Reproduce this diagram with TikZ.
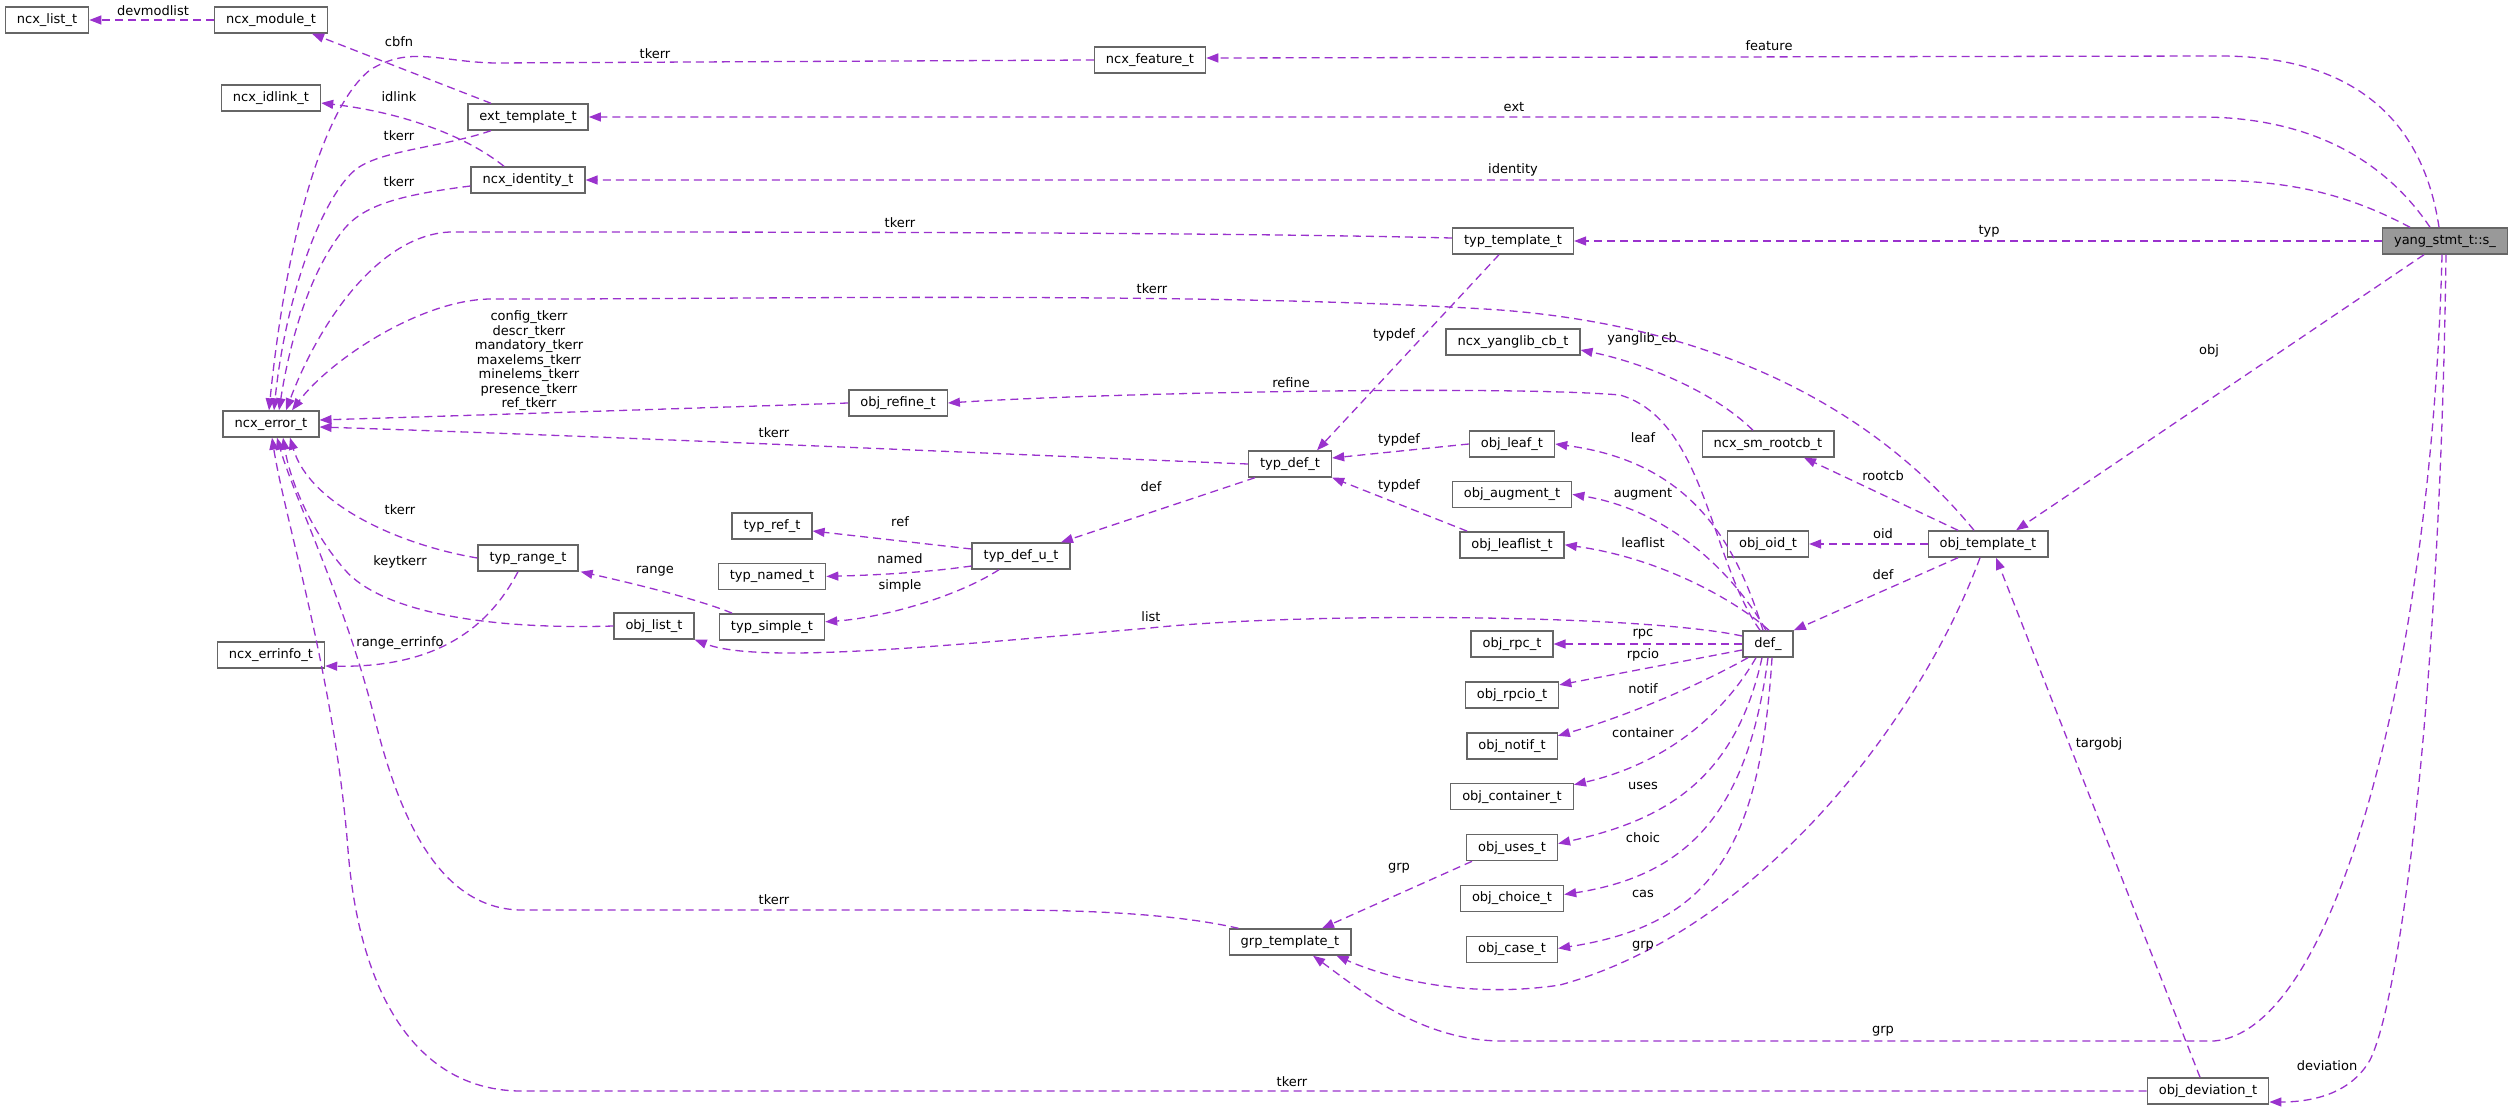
\documentclass[tikz,border=0pt]{standalone}
\usepackage{fontspec}
\setmainfont{DejaVu Sans}
\usetikzlibrary{positioning, arrows.meta}
\definecolor{edgepurple}{HTML}{9A32CD}
\definecolor{boxgray}{HTML}{666666}
\definecolor{rootgray}{HTML}{999999}

\begin{document}
\begin{tikzpicture}[
        x=1pt, y=-1pt,
        base/.style={draw=boxgray, line width=1.4pt, font=\fontsize{13}{14.5}\selectfont, inner xsep=11.5pt, inner ysep=3pt, minimum height=26pt},
        cls/.style={base, fill=white},
        root/.style={base, fill=rootgray},
        lbl/.style={font=\fontsize{13}{14.5}\selectfont, text=black, inner sep=0pt, align=center},
        dep/.style={-{Triangle[length=12pt, width=9pt]}, edgepurple, line width=1.3pt, dash pattern=on 8pt off 5pt}
    ]
    \useasboundingbox (0,0) rectangle (2513,1110);

    \node[cls] (ncxlist) at (47,20) {ncx\_list\_t};
    \node[cls] (ncxmodule) at (271,20) {ncx\_module\_t};
    \node[cls] (ncxidlink) at (271,98) {ncx\_idlink\_t};
    \node[cls] (exttemplate) at (528,117) {ext\_template\_t};
    \node[cls] (ncxidentity) at (528,180) {ncx\_identity\_t};
    \node[cls] (ncxfeature) at (1150,60) {ncx\_feature\_t};
    \node[cls] (typtemplate) at (1513,241) {typ\_template\_t};
    \node[root] (yang) at (2445,241) {yang\_stmt\_t::s\_};

    \node[cls] (ncxerror) at (271,424) {ncx\_error\_t};
    \node[cls] (ncxerrinfo) at (271,655) {ncx\_errinfo\_t};
    \node[cls] (typrange) at (528,558) {typ\_range\_t};
    \node[cls] (objlist) at (654,626) {obj\_list\_t};
    \node[cls] (typref) at (772,526) {typ\_ref\_t};
    \node[cls, below=23pt of typref] (typnamed) {typ\_named\_t};
    \node[cls, below=23pt of typnamed] (typsimple) {typ\_simple\_t};
    \node[cls] (objrefine) at (898,403) {obj\_refine\_t};
    \node[cls] (typdefu) at (1021,556) {typ\_def\_u\_t};
    \node[cls] (typdef) at (1290,464) {typ\_def\_t};
    \node[cls] (grptemplate) at (1290,942) {grp\_template\_t};

    \node[cls] (yanglibcb) at (1513,342) {ncx\_yanglib\_cb\_t};
    \node[cls] (objleaf) at (1512,444) {obj\_leaf\_t};
    \node[cls, below=23pt of objleaf] (objaugment) {obj\_augment\_t};
    \node[cls, below=23pt of objaugment] (objleaflist) {obj\_leaflist\_t};
    \node[cls] (objrpc) at (1512,644) {obj\_rpc\_t};
    \node[cls, below=23.5pt of objrpc] (objrpcio) {obj\_rpcio\_t};
    \node[cls, below=23.5pt of objrpcio] (objnotif) {obj\_notif\_t};
    \node[cls, below=23.5pt of objnotif] (objcontainer) {obj\_container\_t};
    \node[cls, below=23.5pt of objcontainer] (objuses) {obj\_uses\_t};
    \node[cls, below=23.5pt of objuses] (objchoice) {obj\_choice\_t};
    \node[cls, below=23.5pt of objchoice] (objcase) {obj\_case\_t};

    \node[cls] (rootcb) at (1768,444) {ncx\_sm\_rootcb\_t};
    \node[cls] (objoid) at (1768,544) {obj\_oid\_t};
    \node[cls] (objdef) at (1768,644) {def\_};
    \node[cls] (objtemplate) at (1988,544) {obj\_template\_t};
    \node[cls] (objdeviation) at (2208,1091) {obj\_deviation\_t};

    % yang_stmt_t::s_
    \draw[dep] ([xshift=-6pt]yang.north) .. controls (2420,100) and (2330,56) .. (2220,56) -- ([yshift=2pt]ncxfeature.east) node[lbl] at (1769,46) {feature};
    \draw[dep] ([xshift=-15pt]yang.north) .. controls (2385,160) and (2310,117) .. (2200,117) -- (exttemplate.east) node[lbl] at (1514,107) {ext};
    \draw[dep] ([xshift=-35pt]yang.north) .. controls (2340,190) and (2280,180) .. (2200,180) -- (ncxidentity.east) node[lbl] at (1513,170) {identity};
    \draw[dep] (yang.west) -- (typtemplate.east) node[lbl] at (1989,231) {typ};
    \draw[dep] ([xshift=-21pt]yang.south) -- ([xshift=28pt]objtemplate.north) node[lbl] at (2209,351) {obj};
    \draw[dep] ([xshift=-3pt]yang.south) .. controls (2432,650) and (2340,1030) .. (2214,1041) -- (1500,1041) .. controls (1420,1040) and (1360,990) .. ([xshift=23pt]grptemplate.south) node[lbl] at (1883,1031) {grp};
    \draw[dep] ([xshift=1pt]yang.south) .. controls (2440,700) and (2400,1000) .. (2370,1060) .. controls (2350,1095) and (2310,1102) .. ([yshift=-11pt]objdeviation.east) node[lbl] at (2327,1066) {deviation};

    % obj_template_t
    \draw[dep] ([xshift=-30pt]objtemplate.north) -- ([xshift=36pt]rootcb.south) node[lbl] at (1883,476) {rootcb};
    \draw[dep] ([xshift=-15pt]rootcb.north) .. controls (1712,390) and (1640,362) .. ([yshift=-8pt]yanglibcb.east) node[lbl] at (1642,339) {yanglib\_cb};
    \draw[dep] (objtemplate.west) -- (objoid.east) node[lbl] at (1883,534) {oid};
    \draw[dep] ([xshift=-30pt]objtemplate.south) -- (objdef.north east) node[lbl] at (1883,575) {def};
    \draw[dep] ([xshift=-8pt]objtemplate.south) .. controls (1920,720) and (1760,930) .. (1560,985) .. controls (1460,1000) and (1380,975) .. ([xshift=-15pt]grptemplate.south east) node[lbl] at (1643,946) {grp};
    \draw[dep] ([xshift=-14pt]objtemplate.north) .. controls (1900,440) and (1760,330) .. (1500,310) .. controls (1200,290) and (700,300) .. (490,299) .. controls (420,300) and (330,360) .. ([xshift=21pt]ncxerror.north) node[lbl] at (1152,289) {tkerr};
    \draw[dep] ([xshift=-8pt]objdeviation.north) -- ([xshift=8pt]objtemplate.south) node[lbl] at (2099,744) {targobj};
    \draw[dep] (objdeviation.west) -- (520,1091) .. controls (420,1090) and (360,1000) .. (348,850) .. controls (335,680) and (285,520) .. ([xshift=1pt]ncxerror.south) node[lbl] at (1292,1082) {tkerr};

    % def_
    \draw[dep] ([xshift=-8pt]objdef.north) .. controls (1710,560) and (1705,420) .. (1620,395) .. controls (1500,385) and (1100,393) .. (objrefine.east) node[lbl] at (1291,383) {refine};
    \draw[dep] ([xshift=-5pt]objdef.north) .. controls (1735,540) and (1690,462) .. (objleaf.east) node[lbl] at (1643,438) {leaf};
    \draw[dep] ([xshift=-2pt]objdef.north) .. controls (1735,575) and (1670,510) .. (objaugment.east) node[lbl] at (1643,494) {augment};
    \draw[dep] ([xshift=1pt]objdef.north) .. controls (1735,600) and (1660,558) .. (objleaflist.east) node[lbl] at (1643,543) {leaflist};
    \draw[dep] ([yshift=8pt]objdef.west) .. controls (1640,614) and (1300,612) .. (1150,628) .. controls (950,645) and (760,665) .. (objlist.south east) node[lbl] at (1151,617) {list};
    \draw[dep] (objdef.west) -- (objrpc.east) node[lbl] at (1643,634) {rpc};
    \draw[dep] ([yshift=-6pt]objdef.west) -- ([yshift=10pt]objrpcio.east) node[lbl] at (1643,655) {rpcio};
    \draw[dep] ([xshift=-20pt]objdef.south) .. controls (1690,690) and (1620,718) .. ([yshift=10pt]objnotif.east) node[lbl] at (1643,689) {notif};
    \draw[dep] ([xshift=-12pt]objdef.south) .. controls (1720,720) and (1660,765) .. ([yshift=12pt]objcontainer.east) node[lbl] at (1643,733) {container};
    \draw[dep] ([xshift=-6pt]objdef.south) .. controls (1735,780) and (1665,820) .. ([yshift=4pt]objuses.east) node[lbl] at (1643,786) {uses};
    \draw[dep] (objdef.south) .. controls (1748,810) and (1690,875) .. ([yshift=4pt]objchoice.east) node[lbl] at (1643,838) {choic};
    \draw[dep] ([xshift=4pt]objdef.south) .. controls (1760,850) and (1710,925) .. ([yshift=1pt]objcase.east) node[lbl] at (1643,894) {cas};
    \draw[dep] ([xshift=-40pt]objuses.south) -- ([xshift=32pt]grptemplate.north) node[lbl] at (1399,868) {grp};

    % typ_def_t
    \draw[dep] ([xshift=-14pt]typtemplate.south) -- ([xshift=27pt]typdef.north) node[lbl] at (1394,335) {typdef};
    \draw[dep] (objleaf.west) -- ([yshift=6pt]typdef.east) node[lbl] at (1399,440) {typdef};
    \draw[dep] ([xshift=-45pt]objleaflist.north) -- (typdef.south east) node[lbl] at (1399,486) {typdef};
    \draw[dep] ([xshift=-35pt]typdef.south) -- ([xshift=40pt]typdefu.north) node[lbl] at (1151,487) {def};
    \draw[dep] ([yshift=7pt]typdefu.west) -- ([yshift=-5pt]typref.east) node[lbl] at (900,522) {ref};
    \draw[dep] ([yshift=-10pt]typdefu.west) .. controls (930,572) and (880,575) .. (typnamed.east) node[lbl] at (900,559) {named};
    \draw[dep] ([xshift=-22pt]typdefu.south) .. controls (955,598) and (880,618) .. ([yshift=5pt]typsimple.east) node[lbl] at (900,586) {simple};
    \draw[dep] ([xshift=-40pt]typsimple.north) .. controls (700,600) and (640,585) .. ([xshift=2pt]typrange.south east) node[lbl] at (655,571) {range};

    % ncx_error_t
    \draw[dep] (ncxfeature.west) -- (495,63) .. controls (440,62) and (410,45) .. (370,70) .. controls (320,110) and (285,250) .. ([xshift=-2pt]ncxerror.north) node[lbl] at (655,54) {tkerr};
    \draw[dep] ([xshift=-37pt]exttemplate.south) .. controls (440,148) and (380,150) .. (355,170) .. controls (320,200) and (285,300) .. ([xshift=3pt]ncxerror.north) node[lbl] at (399,136) {tkerr};
    \draw[dep] ([yshift=-6pt]ncxidentity.west) .. controls (400,195) and (365,205) .. (345,228) .. controls (310,270) and (290,340) .. ([xshift=8pt]ncxerror.north) node[lbl] at (399,182) {tkerr};
    \draw[dep] ([yshift=3pt]typtemplate.west) .. controls (1200,232) and (800,232) .. (450,232) .. controls (380,235) and (320,320) .. ([xshift=15pt]ncxerror.north) node[lbl] at (900,223) {tkerr};
    \draw[dep] (objrefine.west) .. controls (700,408) and (450,416) .. ([yshift=4pt]ncxerror.east) node[lbl] at (529,361) {config\_tkerr\\descr\_tkerr\\mandatory\_tkerr\\maxelems\_tkerr\\minelems\_tkerr\\presence\_tkerr\\ref\_tkerr};
    \draw[dep] (typdef.west) .. controls (1000,454) and (600,436) .. ([yshift=-3pt]ncxerror.east) node[lbl] at (774,433) {tkerr};
    \draw[dep] (typrange.west) .. controls (400,545) and (310,505) .. ([xshift=19pt]ncxerror.south) node[lbl] at (400,510) {tkerr};
    \draw[dep] (objlist.west) .. controls (480,630) and (380,610) .. (345,570) .. controls (310,530) and (290,480) .. ([xshift=12pt]ncxerror.south) node[lbl] at (400,562) {keytkerr};
    \draw[dep] ([xshift=10pt]grptemplate.north west) .. controls (1180,915) and (1100,910) .. (1000,910) -- (520,910) .. controls (440,908) and (400,820) .. (375,720) .. controls (345,600) and (295,500) .. ([xshift=6pt]ncxerror.south) node[lbl] at (774,900) {tkerr};
    \draw[dep] ([xshift=-10pt]typrange.south) .. controls (490,625) and (440,668) .. ([yshift=-11pt]ncxerrinfo.east) node[lbl] at (400,643) {range\_errinfo};

    % ncx_module_t, ncx_idlink_t
    \draw[dep] (ncxmodule.west) -- (ncxlist.east) node[lbl] at (153,11) {devmodlist};
    \draw[dep] ([xshift=-37pt]exttemplate.north) -- ([xshift=41pt]ncxmodule.south) node[lbl] at (399,42) {cbfn};
    \draw[dep] ([xshift=-24pt]ncxidentity.north) .. controls (465,135) and (400,112) .. ([yshift=-5pt]ncxidlink.east) node[lbl] at (399,97) {idlink};
\end{tikzpicture}
\end{document}
